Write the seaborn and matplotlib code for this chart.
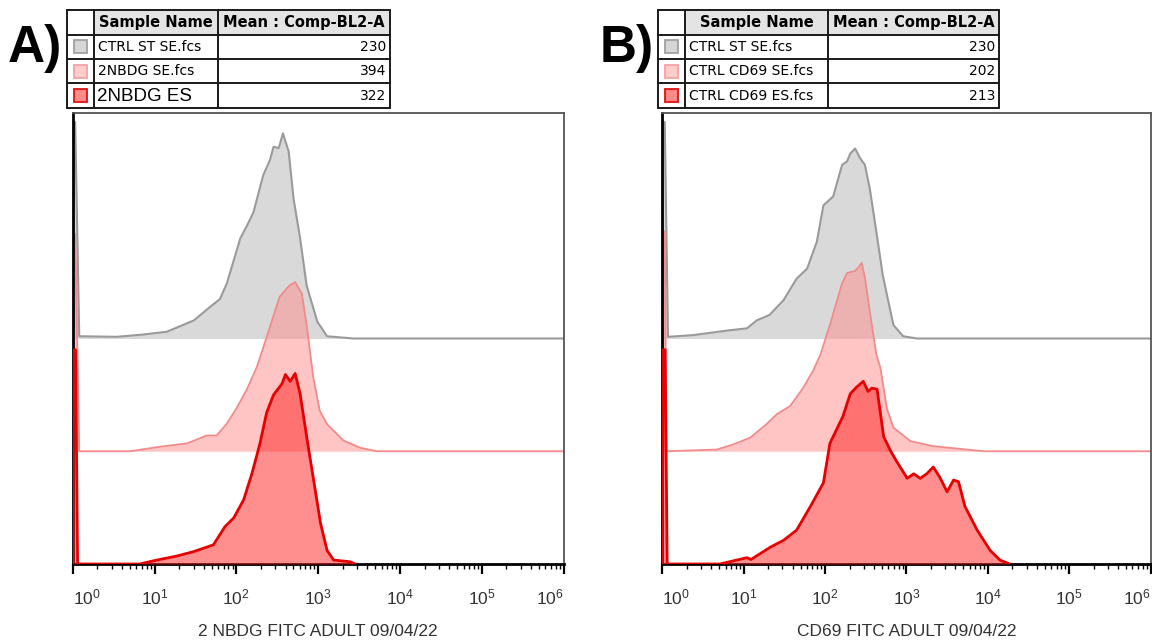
import numpy as np
import matplotlib
matplotlib.use("Agg")
import matplotlib.pyplot as plt
from matplotlib.patches import Rectangle
from matplotlib.ticker import LogLocator, NullFormatter
import seaborn as sns


# -----------------------------
# Data (x in log10 decades, heights in layer units)
# -----------------------------
DECADES = [0, 1, 2, 3, 4, 5, 6]

A_NAMES = ["CTRL ST SE.fcs", "2NBDG SE.fcs", "2NBDG ES"]
A_MEANS = [230, 394, 322]
B_NAMES = ["CTRL ST SE.fcs", "CTRL CD69 SE.fcs", "CTRL CD69 ES.fcs"]
B_MEANS = [230, 202, 213]

A_XLABEL = "2 NBDG FITC ADULT 09/04/22"
B_XLABEL = "CD69 FITC ADULT 09/04/22"

A_GRAY_LOG = [0.00, 0.01, 0.03, 0.08, 0.54, 0.86, 1.15, 1.48, 1.68, 1.80, 1.885, 2.05, 2.13, 2.21,
              2.33, 2.41, 2.455, 2.52, 2.57, 2.64, 2.70, 2.78, 2.86, 2.99, 3.11, 3.43, 6.0]
A_GRAY_H = [0.0, 1.92, 1.92, 0.02, 0.015, 0.035, 0.06, 0.16, 0.28, 0.35, 0.49, 0.89, 1.0, 1.12,
            1.45, 1.58, 1.70, 1.69, 1.82, 1.66, 1.24, 0.89, 0.47, 0.15, 0.02, 0.0, 0.0]

A_PINK_LOG = [0.00, 0.01, 0.03, 0.08, 0.70, 1.07, 1.40, 1.64, 1.76, 1.88, 2.01, 2.13, 2.25, 2.33,
              2.41, 2.53, 2.65, 2.72, 2.80, 2.86, 2.94, 3.02, 3.11, 3.31, 3.52, 3.72, 6.0]
A_PINK_H = [0.0, 1.93, 1.93, 0.0, 0.0, 0.04, 0.07, 0.14, 0.14, 0.24, 0.39, 0.55, 0.745, 0.92,
            1.10, 1.37, 1.47, 1.50, 1.40, 1.12, 0.66, 0.36, 0.24, 0.095, 0.03, 0.0, 0.0]

A_RED_LOG = [0.00, 0.01, 0.035, 0.06, 0.82, 1.03, 1.27, 1.48, 1.72, 1.86, 1.97, 2.09, 2.19, 2.29,
             2.37, 2.455, 2.56, 2.60, 2.66, 2.72, 2.78, 2.86, 2.945, 3.03, 3.11, 3.19, 3.39, 3.455]
A_RED_H = [0.0, 1.90, 1.90, 0.0, 0.0, 0.035, 0.07, 0.11, 0.17, 0.33, 0.41, 0.57, 0.80, 1.07,
           1.34, 1.50, 1.60, 1.68, 1.62, 1.69, 1.51, 1.13, 0.745, 0.36, 0.12, 0.035, 0.02, 0.0]

B_GRAY_LOG = [0.00, 0.01, 0.03, 0.07, 0.38, 0.79, 1.04, 1.16, 1.32, 1.49, 1.65, 1.78, 1.90, 1.98,
              2.10, 2.21, 2.27, 2.31, 2.37, 2.43, 2.49, 2.55, 2.63, 2.71, 2.84, 2.96, 3.13, 6.0]
B_GRAY_H = [0.0, 1.92, 1.92, 0.015, 0.03, 0.07, 0.09, 0.16, 0.21, 0.34, 0.53, 0.62, 0.86, 1.18,
            1.26, 1.54, 1.57, 1.64, 1.685, 1.60, 1.54, 1.33, 0.95, 0.56, 0.12, 0.02, 0.0, 0.0]

B_PINK_LOG = [0.00, 0.01, 0.03, 0.05, 0.67, 0.87, 1.08, 1.28, 1.41, 1.57, 1.73, 1.85, 1.94, 2.06,
              2.21, 2.27, 2.37, 2.41, 2.45, 2.49, 2.55, 2.63, 2.68, 2.76, 2.84, 3.05, 3.33, 3.95, 6.0]
B_PINK_H = [0.0, 1.95, 1.95, 0.0, 0.015, 0.06, 0.12, 0.24, 0.33, 0.40, 0.56, 0.71, 0.85, 1.12,
            1.49, 1.58, 1.60, 1.63, 1.67, 1.54, 1.24, 0.86, 0.74, 0.38, 0.21, 0.09, 0.045, 0.0, 0.0]

B_RED_LOG = [0.00, 0.01, 0.035, 0.06, 0.71, 0.915, 1.04, 1.09, 1.33, 1.49, 1.65, 1.82, 1.98, 2.06,
             2.14, 2.22, 2.31, 2.39, 2.47, 2.53, 2.575, 2.64, 2.72, 2.80, 2.88, 3.01, 3.09, 3.17,
             3.25, 3.33, 3.41, 3.50, 3.58, 3.64, 3.72, 3.87, 4.03, 4.15, 4.27]
B_RED_H = [0.0, 1.90, 1.90, 0.0, 0.0, 0.035, 0.056, 0.04, 0.15, 0.21, 0.30, 0.51, 0.72, 1.07,
           1.19, 1.31, 1.51, 1.57, 1.62, 1.53, 1.56, 1.55, 1.13, 1.01, 0.91, 0.76, 0.80, 0.76,
           0.80, 0.86, 0.77, 0.64, 0.745, 0.73, 0.51, 0.30, 0.12, 0.035, 0.0]


# -----------------------------
# Styles / layout (pixels)
# -----------------------------
W, H = 1152, 640

LAYER_STYLE = [
    # offset, fill, fill alpha, line colour, line width
    (2, "#d9d9d9", 1.0, "#9a9a9a", 1.5),
    (1, "#ff8c8c", 0.5, "#f28a8a", 1.3),
    (0, "#ff2020", 0.5, "#e60000", 2.0),
]
SWATCHES = [("#d6d6d6", "#a0a0a0"), ("#ffcccc", "#f4a3a3"), ("#ff8a8a", "#e01010")]

sns.set_theme(style="ticks")
plt.rcParams["font.family"] = ["Liberation Sans", "DejaVu Sans"]
plt.rcParams["text.color"] = "black"
plt.rcParams["mathtext.fontset"] = "custom"
plt.rcParams["mathtext.rm"] = "Liberation Sans"
plt.rcParams["mathtext.it"] = "Liberation Sans"
plt.rcParams["mathtext.bf"] = "Liberation Sans:bold"

fig = plt.figure(figsize=(W / 100, H / 100), dpi=100)


def px_axes(x0, y0, x1, y1):
    return fig.add_axes([x0 / W, 1 - y1 / H, (x1 - x0) / W, (y1 - y0) / H])


def draw_histograms(ax, curves, xlabel):
    for (logs, heights), (off, fill, alpha, line, lw), z in zip(curves, LAYER_STYLE, [1, 2, 3]):
        x = np.power(10.0, logs)
        y = np.asarray(heights) + off
        ax.fill_between(x, off, y, color=fill, alpha=alpha, linewidth=0, zorder=z)
        sns.lineplot(x=x, y=y, ax=ax, color=line, linewidth=lw, sort=False,
                     estimator=None, zorder=z + 0.5)

    ax.set_xscale("log")
    ax.set_xlim(1, 1e6)
    ax.set_ylim(0, 4)
    ax.set_yticks([])
    ax.set_ylabel("")
    ax.set_xticks([10.0 ** d for d in DECADES])
    ax.set_xticklabels([r"$\mathregular{10^{%d}}$" % d for d in DECADES])
    ax.xaxis.set_minor_locator(LogLocator(base=10, subs=np.arange(2, 10), numticks=30))
    ax.xaxis.set_minor_formatter(NullFormatter())
    ax.tick_params(axis="x", which="major", direction="out", length=7, width=1.6,
                   color="black", pad=10, labelsize=12.5, labelcolor="#333333")
    ax.tick_params(axis="x", which="minor", direction="out", length=3.5, width=1.0,
                   color="black")
    labels = ax.get_xticklabels()
    labels[0].set_ha("left")
    labels[-1].set_ha("right")
    ax.set_xlabel(xlabel, fontsize=12.5, color="#333333", labelpad=12)

    for side in ["bottom", "left"]:
        ax.spines[side].set_linewidth(2.0)
        ax.spines[side].set_color("black")
    for side in ["top", "right"]:
        ax.spines[side].set_linewidth(1.3)
        ax.spines[side].set_color("#555555")


def draw_table(box, col_edges, names, means):
    x0, y0, x1, y1 = box
    tax = px_axes(x0, y0, x1, y1)
    w, h = x1 - x0, y1 - y0
    tax.set_xlim(0, w)
    tax.set_ylim(h, 0)
    tax.axis("off")
    rows = np.linspace(0, h, 5)
    c1, c2 = col_edges

    tax.add_patch(Rectangle((c1, 0), w - c1, rows[1], fc="#e4e4e4", ec="none"))
    for yy in rows:
        tax.plot([0, w], [yy, yy], color="#1a1a1a", lw=1.4, clip_on=False)
    for xx in [0, c1, c2, w]:
        tax.plot([xx, xx], [0, h], color="#1a1a1a", lw=1.4, clip_on=False)

    head_mid = rows[1] / 2
    tax.text((c1 + c2) / 2, head_mid, "Sample Name", ha="center", va="center",
             family="DejaVu Sans", fontweight="bold", fontsize=10.5, color="black")
    tax.text((c2 + w) / 2, head_mid, "Mean : Comp-BL2-A", ha="center", va="center",
             family="DejaVu Sans", fontweight="bold", fontsize=10.5, color="black")

    for i, (name, mean, (fc, ec)) in enumerate(zip(names, means, SWATCHES)):
        mid = (rows[i + 1] + rows[i + 2]) / 2
        tax.add_patch(Rectangle((c1 / 2 - 6.5, mid - 6.5), 13, 13, fc=fc, ec=ec, lw=1.3))
        if name == "2NBDG ES":
            tax.text(c1 + 3, mid + 1, name, ha="left", va="center",
                     family="Liberation Sans", fontsize=13.5, color="black")
        else:
            tax.text(c1 + 4, mid, name, ha="left", va="center",
                     family="DejaVu Sans", fontsize=10, color="black")
        tax.text(w - 4, mid, str(mean), ha="right", va="center",
                 family="DejaVu Sans", fontsize=10, color="black")


# -----------------------------
# Panels
# -----------------------------
ax_a = px_axes(72.7, 113, 563.5, 564)
draw_histograms(ax_a, [(A_GRAY_LOG, A_GRAY_H), (A_PINK_LOG, A_PINK_H), (A_RED_LOG, A_RED_H)],
                A_XLABEL)
draw_table((67, 10, 390, 108), (27, 151), A_NAMES, A_MEANS)

ax_b = px_axes(662.3, 113, 1150.5, 564)
draw_histograms(ax_b, [(B_GRAY_LOG, B_GRAY_H), (B_PINK_LOG, B_PINK_H), (B_RED_LOG, B_RED_H)],
                B_XLABEL)
draw_table((658, 10, 999, 108), (27, 170), B_NAMES, B_MEANS)

fig.text(8 / W, 1 - 62 / H, "A)", fontsize=37, fontweight="bold", va="baseline", color="black")
fig.text(600 / W, 1 - 62 / H, "B)", fontsize=37, fontweight="bold", va="baseline", color="black")

plt.savefig("out.png", dpi=100)
